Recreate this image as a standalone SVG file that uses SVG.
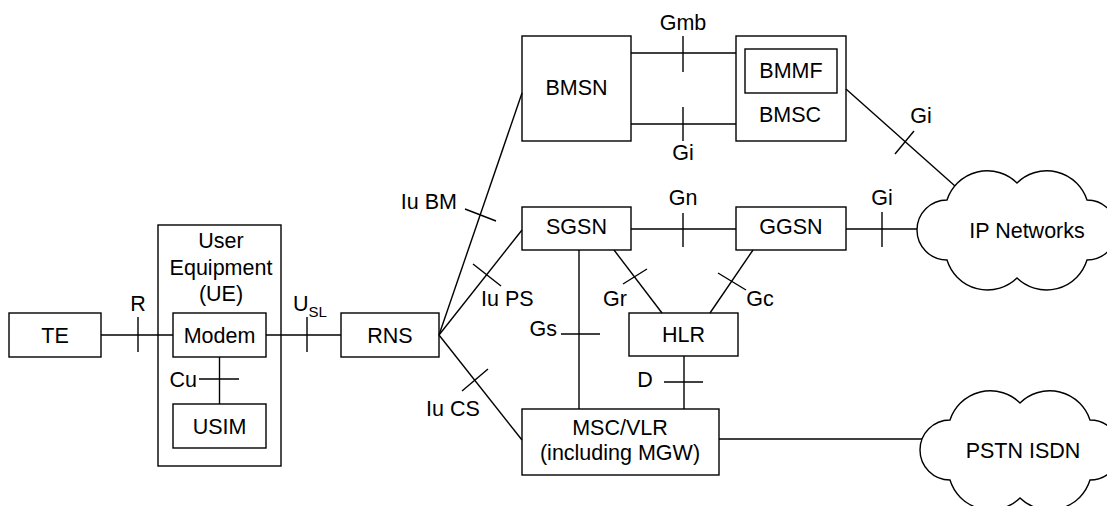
<svg xmlns="http://www.w3.org/2000/svg" width="1107" height="506" viewBox="0 0 1107 506">
<style>
rect.n{fill:#fff;stroke:#000;stroke-width:1.4}
rect.o{fill:none;stroke:#000;stroke-width:1.4}
.c line{stroke:#000;stroke-width:1.4;fill:none}
.cloud{fill:#fff;stroke:#000;stroke-width:1.4}
text{font-family:"Liberation Sans",Arial,sans-serif;font-size:21.5px;fill:#000}
.m{text-anchor:middle}
.e{text-anchor:end}
</style>
<defs>
<path id="cloudShape" class="cloud" d="M -70 -30 A 42.4 42.4 0 0 1 0 -47 A 42.4 42.4 0 0 1 70 -30 A 30 30 0 0 1 70 30 A 42.4 42.4 0 0 1 0 48 A 42.4 42.4 0 0 1 -70 30 A 30 30 0 0 1 -70 -30 Z"/>
</defs>
<rect width="1107" height="506" fill="#fff"/>
<g id="TE"><rect class="n" x="9" y="313" width="92" height="44"/><text x="55" y="342.5" class="m">TE</text></g>
<g id="UE"><rect class="o" x="158" y="225" width="123" height="241"/>
<text x="221" y="248" class="m">User</text><text x="221" y="275" class="m">Equipment</text><text x="221" y="301" class="m">(UE)</text></g>
<g id="Modem"><rect class="n" x="173" y="313" width="93" height="44"/><text x="219.5" y="342.5" class="m">Modem</text></g>
<g id="USIM"><rect class="n" x="173" y="404" width="93" height="44"/><text x="219.5" y="433.5" class="m">USIM</text></g>
<g id="RNS"><rect class="n" x="341" y="313" width="98" height="44"/><text x="390" y="342.5" class="m">RNS</text></g>
<g id="BMSN"><rect class="n" x="522" y="36" width="109" height="105"/><text x="576.5" y="95" class="m">BMSN</text></g>
<g id="BMSC"><rect class="n" x="736" y="36" width="110" height="105"/>
<rect class="n" x="745" y="49" width="92" height="44"/><text x="791" y="77.5" class="m">BMMF</text>
<text x="790" y="121.5" class="m">BMSC</text></g>
<g id="SGSN"><rect class="n" x="522" y="207" width="109" height="43"/><text x="576.5" y="234" class="m">SGSN</text></g>
<g id="GGSN"><rect class="n" x="736" y="207" width="110" height="43"/><text x="791" y="234" class="m">GGSN</text></g>
<g id="HLR"><rect class="n" x="629" y="313" width="109" height="43"/><text x="683.5" y="342" class="m">HLR</text></g>
<g id="MSC"><rect class="n" x="522" y="409" width="197" height="66"/>
<text x="620" y="435" class="m">MSC/VLR</text><text x="620" y="460" class="m">(including MGW)</text></g>
<g id="IPNetworks"><use href="#cloudShape" transform="translate(1017,230)"/><text x="1027" y="238" class="m">IP Networks</text></g>
<g id="PSTN"><use href="#cloudShape" transform="translate(1020,450)"/><text x="1023" y="457.5" class="m">PSTN ISDN</text></g>
<g id="connectors" class="c">
<line x1="101" y1="335" x2="173" y2="335"/>
<line x1="138" y1="317" x2="138" y2="352"/>
<line x1="266" y1="335" x2="341" y2="335"/>
<line x1="307" y1="317" x2="307" y2="352"/>
<line x1="219.5" y1="357" x2="219.5" y2="404"/>
<line x1="199" y1="379" x2="239" y2="379"/>
<line x1="439" y1="335" x2="522" y2="93"/>
<line x1="465" y1="209" x2="496" y2="221"/>
<line x1="439" y1="335" x2="522" y2="230"/>
<line x1="473" y1="264" x2="501" y2="286"/>
<line x1="439" y1="335" x2="522" y2="440"/>
<line x1="462" y1="391" x2="488" y2="369"/>
<line x1="631" y1="53" x2="736" y2="53"/>
<line x1="683" y1="36" x2="683" y2="72"/>
<line x1="631" y1="124" x2="736" y2="124"/>
<line x1="683" y1="107" x2="683" y2="141"/>
<line x1="846" y1="89" x2="955" y2="186"/>
<line x1="895" y1="154" x2="914" y2="131"/>
<line x1="631" y1="229" x2="736" y2="229"/>
<line x1="683" y1="213" x2="683" y2="247"/>
<line x1="846" y1="229" x2="917" y2="229"/>
<line x1="882" y1="212" x2="882" y2="247"/>
<line x1="579" y1="250" x2="579" y2="409"/>
<line x1="561" y1="334" x2="600" y2="334"/>
<line x1="614" y1="250" x2="662" y2="313"/>
<line x1="623" y1="284" x2="647" y2="269"/>
<line x1="753" y1="250" x2="710" y2="313"/>
<line x1="718" y1="273" x2="746" y2="290"/>
<line x1="684" y1="356" x2="684" y2="409"/>
<line x1="664" y1="382" x2="703" y2="382"/>
<line x1="719" y1="439" x2="922" y2="439"/>
<text x="138" y="311" class="m">R</text>
<text x="293" y="311">U<tspan font-size="15" dy="6">SL</tspan></text>
<text x="197" y="387" class="e">Cu</text>
<text x="457" y="209" class="e">Iu BM</text>
<text x="481" y="306">Iu PS</text>
<text x="426" y="416">Iu CS</text>
<text x="683" y="30" class="m">Gmb</text>
<text x="683" y="160" class="m">Gi</text>
<text x="921" y="123" class="m">Gi</text>
<text x="683" y="205" class="m">Gn</text>
<text x="882" y="205" class="m">Gi</text>
<text x="557" y="336" class="e">Gs</text>
<text x="615" y="306" class="m">Gr</text>
<text x="760" y="306" class="m">Gc</text>
<text x="645" y="387" class="m">D</text>
</g>
</svg>
